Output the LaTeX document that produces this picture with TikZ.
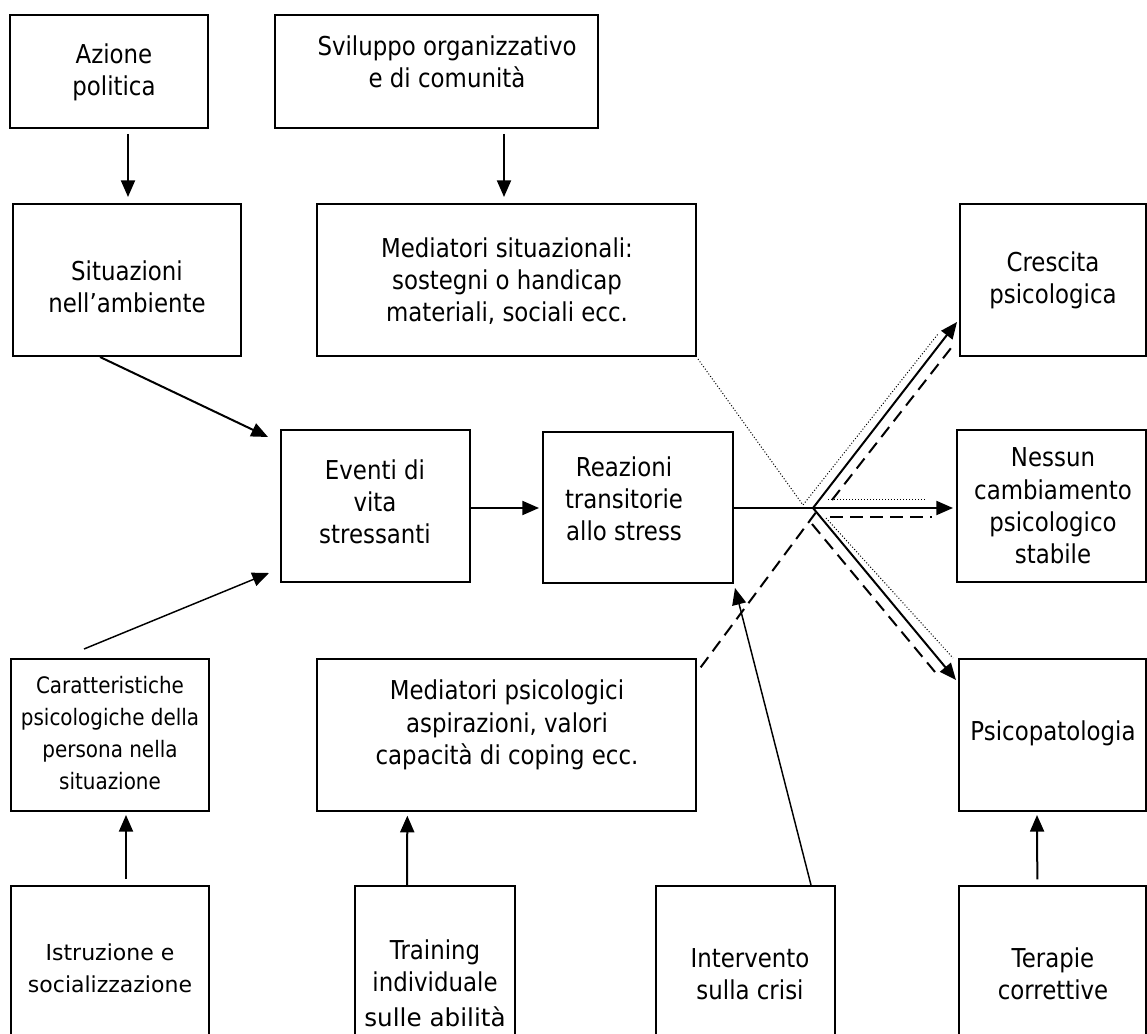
\documentclass[tikz,border=0pt]{standalone}
\usepackage{fontspec}
\setmainfont[FakeStretch=0.88]{DejaVu Sans}
\newfontfamily\widefont{DejaVu Sans}
\usetikzlibrary{arrows.meta,calc,fit}

\begin{document}
\begin{tikzpicture}[x=0.75pt,y=-0.75pt,
  box/.style={draw, line width=1.5pt, inner sep=0pt},
  thinbox/.style={box, line width=1pt},
  lbl/.style={align=center, font=\fontsize{17}{24}\selectfont, inner sep=0pt},
  biglbl/.style={lbl, font=\fontsize{19.5}{24.2}\selectfont},
  tip/.style={-{Triangle[length=12.5pt,width=10.5pt]}},
  arr/.style={tip, line width=1.5pt},
  thinarr/.style={tip, line width=1.1pt},
  dashline/.style={line width=1.5pt, dash pattern=on 9.5pt off 5.5pt},
  dotline/.style={line width=0.75pt, dash pattern=on 0.75pt off 1.5pt}]

\useasboundingbox (0,0) rectangle (1147,1034);
\clip (0,0) rectangle (1147,1034);

% ---------- boxes ----------
\node[box,     fit={(10,15) (208,128)}]    (azi) {};
\node[box,     fit={(275,15) (598,128)}]   (svi) {};
\node[box,     fit={(13,204) (241,356)}]   (sit) {};
\node[box,     fit={(317,204) (696,356)}]  (msi) {};
\node[box,     fit={(960,204) (1146,356)}] (cre) {};
\node[box,     fit={(281,430) (470,582)}]  (eve) {};
\node[box,     fit={(543,432) (733,583)}]  (rea) {};
\node[box,     fit={(957,430) (1146,582)}] (nes) {};
\node[box,     fit={(11,659) (209,811)}]   (car) {};
\node[thinbox, fit={(317,659) (696,811)}]  (mps) {};
\node[box,     fit={(959,659) (1146,811)}] (psi) {};
\node[box,     fit={(11,886) (209,1060)}]  (ist) {};
\node[box,     fit={(355,886) (515,1060)}] (tra) {};
\node[box,     fit={(656,886) (835,1060)}] (int) {};
\node[thinbox, fit={(959,886) (1146,1060)}] (ter) {};

% ---------- texts ----------
\node[biglbl] (azi-t) at (114,72)  {Azione\\politica};
\node[biglbl] (svi-t) at (447,62)  {Sviluppo organizzativo\\e di comunità};
\node[biglbl] (sit-t) at (127,287) {Situazioni\\nell’ambiente};
\node[biglbl] (msi-t) at (507,281) {Mediatori situazionali:\\sostegni o handicap\\materiali, sociali ecc.};
\node[biglbl] (cre-t) at (1053,280) {Crescita\\psicologica};
\node[biglbl] (eve-t) at (375,502) {Eventi di\\vita\\stressanti};
\node[biglbl] (rea-t) at (624,499) {Reazioni\\transitorie\\allo stress};
\node[biglbl] (nes-t) at (1053,506) {Nessun\\cambiamento\\psicologico\\stabile};
\node[lbl]    (car-t) at (110,733) {Caratteristiche\\psicologiche della\\persona nella\\situazione};
\node[biglbl] (mps-t) at (507,725) {Mediatori psicologici\\aspirazioni, valori\\capacità di coping ecc.};
\node[biglbl] (psi-t) at (1053,733) {Psicopatologia};
\node[lbl, font=\widefont\fontsize{16.5}{24}\selectfont] (ist-t) at (110,968) {Istruzione e\\socializzazione};
\node[biglbl] (tra-t) at (435,983) {Training\\individuale\\[2pt]{\widefont\fontsize{18.5}{24}\selectfont sulle abilità}};
\node[biglbl] (int-t) at (750,974) {Intervento\\sulla crisi};
\node[biglbl] (ter-t) at (1053,974) {Terapie\\correttive};

% ---------- vertical arrows ----------
\draw[arr] ($(azi.south west)+(119,5)$) -- ($(sit.north west)+(116,-6)$);
\draw[arr] ($(svi.south west)+(230,5)$) -- ($(msi.north west)+(188,-6)$);
\draw[arr] ($(ist.north west)+(116,-6)$) -- ($(car.south west)+(116,3)$);
\draw[arr] ($(tra.north west)+(53,0)$)  -- ($(mps.south west)+(91,4)$);
\draw[arr] ($(ter.north west)+(79,-6)$) -- ($(psi.south west)+(79,3)$);

% ---------- into the stress events ----------
\draw[arr]     ($(sit.south west)+(88,0)$)  -- ($(eve.north west)+(-12,8)$);
\draw[thinarr] ($(car.north west)+(74,-9)$) -- ($(eve.south west)+(-11,-10)$);
\draw[arr]     (eve.east |- 0,508) -- ($(rea.west |- 0,508)+(-3,0)$);
\draw[thinarr] ($(int.north west)+(156,0)$) -- ($(rea.south east)+(1,4)$);

% ---------- outcome fan ----------
\coordinate (j)  at (813,508);
\draw[line width=1.5pt] (rea.east |- j) -- (j);
\draw[arr] (j) -- ($(nes.west |- j)+(-3,0)$);
\draw[arr] (j) -- ($(cre.south west)+(-2,-35)$);
\draw[arr] (j) -- ($(psi.north west)+(-2,22)$);

% dotted path: situational mediators
\coordinate (jd) at (803,505);
\draw[dotline] ($(msi.south east)+(1,2)$) -- (jd) -- (938,334);
\draw[dotline] (828,499) -- (927,499);
\draw[dotline] (826,518) -- (953,658);

% dashed path: psychological mediators
\coordinate (jm) at (817,511);
\draw[dashline] ($(mps.north east)+(4,9)$) -- (jm);
\draw[dashline] (832,500) -- (955,343);
\draw[dashline] (830,517) -- (932,517);
\draw[dashline] (812,524) -- (935,672);

\end{tikzpicture}
\end{document}
